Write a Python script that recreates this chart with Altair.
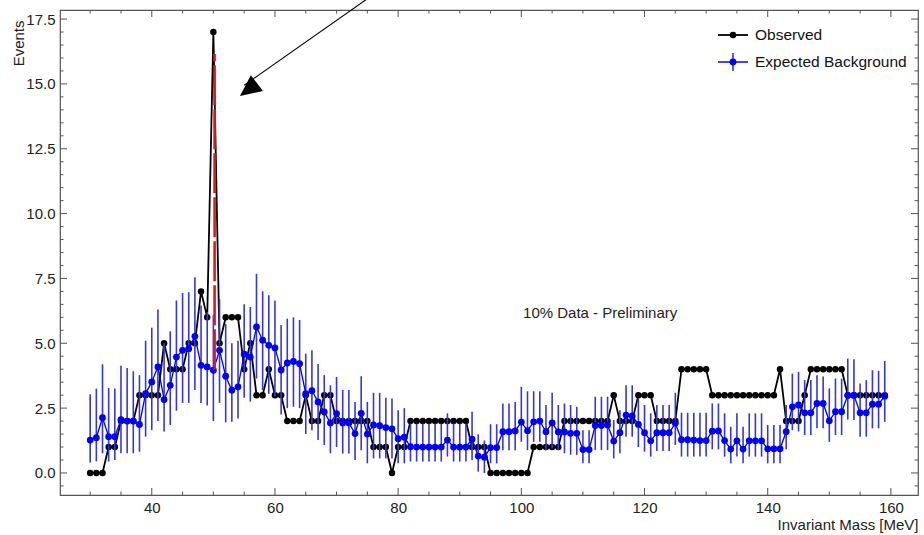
import altair as alt
import pandas as pd

# ---------------- data ----------------
mass = list(range(30, 160))

observed = [
    0, 0, 0, 1, 1, 2, 2, 2, 3, 3,
    3, 3, 5, 4, 4, 4, 5, 5, 7, 6,
    17, 5, 6, 6, 6, 4, 5, 3, 3, 4,
    3, 3, 2, 2, 2, 3, 2, 2, 3, 3,
    2, 2, 2, 2, 2, 2, 1, 1, 1, 0,
    1, 1, 2, 2, 2, 2, 2, 2, 2, 2,
    2, 2, 1, 1, 1, 0, 0, 0, 0, 0,
    0, 0, 1, 1, 1, 1, 1, 2, 2, 2,
    2, 2, 2, 2, 2, 3, 2, 2, 2, 3,
    3, 3, 2, 2, 2, 2, 4, 4, 4, 4,
    4, 3, 3, 3, 3, 3, 3, 3, 3, 3,
    3, 3, 4, 2, 2, 2, 3, 4, 4, 4,
    4, 4, 4, 3, 3, 3, 3, 3, 3, 3,
]

expected = [
    1.27, 1.36, 2.13, 1.40, 1.40, 2.06, 2.00, 2.00, 1.87, 3.06,
    3.51, 4.09, 2.83, 3.38, 4.47, 4.73, 4.79, 5.27, 4.15, 4.09,
    3.96, 4.73, 3.73, 3.19, 3.32, 4.58, 4.47, 5.63, 5.12, 4.92,
    4.82, 3.97, 4.24, 4.30, 4.21, 3.06, 3.17, 2.74, 2.35, 1.93,
    2.29, 1.93, 1.93, 1.52, 2.30, 1.50, 1.85, 1.82, 1.75, 1.70,
    1.32, 1.38, 1.01, 1.00, 1.00, 1.00, 1.00, 1.00, 1.27, 1.00,
    1.00, 1.00, 1.30, 0.65, 0.61, 0.98, 0.98, 1.59, 1.59, 1.62,
    1.96, 1.63, 1.97, 2.00, 1.59, 1.93, 1.58, 1.58, 1.53, 1.53,
    0.90, 0.90, 1.83, 1.83, 1.85, 1.23, 1.55, 2.23, 2.20, 1.87,
    1.55, 1.24, 1.55, 1.55, 1.55, 1.92, 1.28, 1.28, 1.27, 1.25,
    1.25, 1.61, 1.62, 1.25, 0.92, 1.24, 0.92, 1.24, 1.24, 1.24,
    0.93, 0.93, 0.93, 1.59, 2.55, 2.62, 2.32, 2.32, 2.68, 2.68,
    2.01, 2.36, 2.36, 2.99, 2.99, 2.32, 2.32, 2.65, 2.65, 2.96,
]

expected_high = [
    3.03, 3.25, 4.19, 3.28, 3.26, 4.13, 4.05, 3.92, 3.77, 5.10,
    5.60, 6.30, 5.00, 5.46, 6.65, 6.94, 6.97, 7.55, 6.46, 6.20,
    6.10, 6.70, 5.75, 5.00, 5.10, 6.50, 6.40, 7.68, 7.00, 6.85,
    6.65, 5.70, 5.95, 6.00, 5.90, 4.60, 4.73, 4.20, 3.77, 3.38,
    3.70, 3.20, 3.20, 2.74, 3.73, 2.74, 3.09, 3.09, 2.90, 2.87,
    2.42, 2.50, 1.91, 1.91, 1.91, 1.91, 1.91, 1.91, 2.30, 1.91,
    1.91, 1.91, 2.36, 1.49, 1.25, 1.88, 1.88, 2.68, 2.68, 2.74,
    3.32, 3.15, 3.15, 3.15, 2.62, 3.09, 2.62, 2.68, 2.62, 2.55,
    1.65, 1.65, 2.94, 2.94, 2.94, 2.04, 2.42, 3.38, 3.38, 2.87,
    2.62, 2.30, 2.62, 2.62, 2.62, 3.09, 2.32, 2.32, 2.32, 2.32,
    2.32, 2.68, 2.68, 2.30, 1.78, 2.30, 1.78, 2.30, 2.30, 2.30,
    1.85, 1.85, 1.85, 2.62, 3.83, 3.90, 3.58, 3.58, 3.77, 3.72,
    3.26, 3.64, 3.64, 4.41, 4.38, 3.45, 3.58, 3.96, 3.94, 4.32,
]

expected_low = [
    0.40, 0.45, 0.76, 0.44, 0.50, 0.76, 0.76, 0.76, 0.82, 1.40,
    1.65, 2.00, 1.60, 1.85, 2.40, 2.70, 2.70, 3.20, 2.70, 2.60,
    2.00, 2.70, 1.95, 1.97, 2.10, 2.90, 2.75, 3.64, 3.20, 3.05,
    2.95, 2.25, 2.50, 2.55, 2.50, 1.50, 1.65, 1.27, 1.08, 0.76,
    1.00, 0.75, 0.75, 0.50, 0.88, 0.37, 0.56, 0.56, 0.56, 0.56,
    0.37, 0.37, 0.44, 0.44, 0.44, 0.44, 0.44, 0.44, 0.63, 0.44,
    0.44, 0.44, 0.50, 0.05, 0.00, 0.37, 0.37, 0.88, 0.88, 0.88,
    1.20, 0.88, 1.20, 1.20, 0.88, 0.95, 0.88, 0.76, 0.70, 0.70,
    0.37, 0.37, 0.88, 0.88, 0.88, 0.56, 0.76, 1.40, 1.40, 1.00,
    0.82, 0.63, 0.85, 0.85, 0.85, 1.08, 0.63, 0.63, 0.63, 0.63,
    0.63, 0.91, 0.91, 0.63, 0.37, 0.63, 0.37, 0.63, 0.63, 0.63,
    0.37, 0.37, 0.37, 0.91, 1.65, 1.60, 1.46, 1.46, 1.72, 1.72,
    1.20, 1.46, 1.46, 2.06, 2.04, 1.40, 1.40, 1.72, 1.72, 1.97,
]

# signal marker (red line at the peak)
signal_mass = [50.2]
signal_low = [4.0]
signal_high = [16.15]

# annotation
note_text = ["10% Data - Preliminary"]
note_x = [112.8]
note_y = [6.15]

# arrow (tail outside the frame, head near the peak)
arrow_x = [77.5, 55.0]
arrow_y = [18.7, 14.95]
arrow_head_x = [55.69]
arrow_head_y = [14.78]

# axes
x_domain = [25.1, 164.4]
y_domain = [-0.85, 17.85]
x_major = [40, 60, 80, 100, 120, 140, 160]
x_minor = [v for v in range(30, 161, 5) if v % 20 != 0]
y_major = [0.0, 2.5, 5.0, 7.5, 10.0, 12.5, 15.0, 17.5]
y_minor = [v / 2 for v in range(-1, 36) if v % 5 != 0]

FONT = "Liberation Sans"
W, H = 858, 485
FRAME = "#555555"

df = pd.DataFrame({
    "mass": mass,
    "observed": observed,
    "expected": expected,
    "hi": expected_high,
    "lo": expected_low,
})

xs = alt.Scale(domain=x_domain, nice=False, zero=False)
ys = alt.Scale(domain=y_domain, nice=False, zero=False)
x_axis = alt.Axis(values=x_major, format="d", title="Invariant Mass [MeV]",
                  titleAlign="right", titleAnchor="end", titleX=W, titleY=34,
                  titleBaseline="alphabetic", labelPadding=5)
y_axis = alt.Axis(values=y_major, format=".1f", title="Events",
                  titleAngle=270, titleAlign="right", titleBaseline="top",
                  titleX=-49, titleY=10, labelPadding=5)


def X(field):
    return alt.X(field, type="quantitative", scale=xs, axis=x_axis)


def Y(field):
    return alt.Y(field, type="quantitative", scale=ys, axis=y_axis)


base = alt.Chart(df)

obs_line = base.mark_line(color="black", strokeWidth=1.8).encode(x=X("mass"), y=Y("observed"))
obs_pts = base.mark_circle(color="black", size=42, opacity=1).encode(x=X("mass"), y=Y("observed"))

err = base.mark_rule(color="#3535e8", strokeWidth=1.6).encode(x=X("mass"), y=Y("lo"), y2="hi")
exp_line = base.mark_line(color="#0000ff", strokeWidth=1.3).encode(x=X("mass"), y=Y("expected"))
exp_pts = base.mark_circle(color="#0000ff", size=46, opacity=1).encode(x=X("mass"), y=Y("expected"))

sig = alt.Chart(pd.DataFrame({"m": signal_mass, "lo": signal_low, "hi": signal_high})).mark_rule(
    color="#e8141c", strokeWidth=2.6, strokeDash=[40, 4]
).encode(x=X("m"), y=Y("lo"), y2="hi")

# inward ticks on all four sides
def xticks(values, length):
    d = alt.Chart(pd.DataFrame({"v": values}))
    bottom = d.mark_rule(color=FRAME, strokeWidth=1).encode(
        x=X("v"), y=alt.value(H), y2=alt.value(H - length))
    top = d.mark_rule(color=FRAME, strokeWidth=1).encode(
        x=X("v"), y=alt.value(0), y2=alt.value(length))
    return [bottom, top]


def yticks(values, length):
    d = alt.Chart(pd.DataFrame({"v": values}))
    left = d.mark_rule(color=FRAME, strokeWidth=1).encode(
        y=Y("v"), x=alt.value(0), x2=alt.value(length))
    right = d.mark_rule(color=FRAME, strokeWidth=1).encode(
        y=Y("v"), x=alt.value(W), x2=alt.value(W - length))
    return [left, right]


ticks = xticks(x_major, 7) + xticks(x_minor, 3.5) + yticks(y_major, 7) + yticks(y_minor, 3.5)

note = alt.Chart(pd.DataFrame({"t": note_text, "x": note_x, "y": note_y})).mark_text(
    font=FONT, fontSize=15, color="#222222", align="center", baseline="middle"
).encode(x=X("x"), y=Y("y"), text="t:N")

arrow_line = alt.Chart(pd.DataFrame({"x": arrow_x, "y": arrow_y})).mark_line(
    color="black", strokeWidth=1.1, clip=False
).encode(x=X("x"), y=Y("y"))
arrow_head = alt.Chart(pd.DataFrame({"x": arrow_head_x, "y": arrow_head_y})).mark_point(
    shape="M0,-1L0.93,1L-0.93,1Z", size=458, angle=232.6, filled=True,
    color="black", opacity=1, strokeWidth=0
).encode(x=X("x"), y=Y("y"))

# legend drawn by hand
one = alt.Chart(pd.DataFrame({"k": [0]}))
leg = [
    one.mark_rule(color="black", strokeWidth=1.8).encode(
        x=alt.value(658), x2=alt.value(688), y=alt.value(25)),
    one.mark_circle(color="black", size=42, opacity=1).encode(
        x=alt.value(673), y=alt.value(25)),
    one.mark_text(font=FONT, fontSize=15.5, color="#111111", align="left", baseline="middle").encode(
        x=alt.value(695), y=alt.value(25), text=alt.value("Observed")),
    one.mark_rule(color="#0000ff", strokeWidth=1.5).encode(
        x=alt.value(658), x2=alt.value(688), y=alt.value(52)),
    one.mark_rule(color="#3535e8", strokeWidth=1.6).encode(
        x=alt.value(673), y=alt.value(43), y2=alt.value(61)),
    one.mark_circle(color="#0000ff", size=46, opacity=1).encode(
        x=alt.value(673), y=alt.value(52)),
    one.mark_text(font=FONT, fontSize=15.5, color="#111111", align="left", baseline="middle").encode(
        x=alt.value(695), y=alt.value(52), text=alt.value("Expected Background")),
]

chart = alt.layer(
    obs_line, obs_pts, err, exp_line, exp_pts, sig, *ticks, note, arrow_line, arrow_head, *leg
).properties(
    width=W, height=H,
    padding={"left": 60, "top": 10, "right": 6, "bottom": 40},
    autosize=alt.AutoSizeParams(type="none"),
    background="white",
).configure_axis(
    labelFont=FONT, labelFontSize=15, labelColor="#222222",
    titleFont=FONT, titleFontSize=15, titleColor="#222222", titleFontWeight="normal",
    domain=False, ticks=False, tickSize=0, grid=False,
).configure_view(
    stroke=FRAME, strokeWidth=1.2,
)

chart.save("out.html", embed_options={"renderer": "svg", "actions": False})
